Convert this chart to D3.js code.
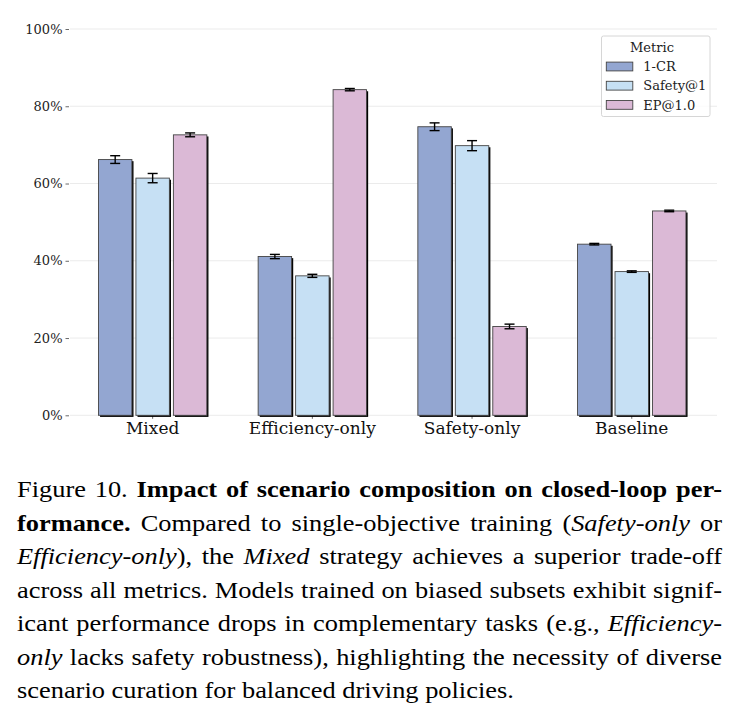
<!DOCTYPE html>
<html>
<head>
<meta charset="utf-8">
<script src="https://d3js.org/d3.v7.min.js"></script>
<style>
  body { margin: 0; background: #fff; }
  svg { display: block; }
  .serif { font-family: 'DejaVu Serif', serif; }
  .caption { font-family: 'Liberation Serif', 'Times New Roman', serif; }
</style>
</head>
<body>
<svg id="chart" width="740" height="719"></svg>
<script>
// data (percent)
var categories = ["Mixed", "Efficiency-only", "Safety-only", "Baseline"];
var metrics = ["1-CR", "Safety@1", "EP@1.0"];
var oneCR = [66.2, 41.1, 74.7, 44.3];
var safety1 = [61.4, 36.1, 69.8, 37.2];
var ep10 = [72.6, 84.3, 23.0, 52.9];
var oneCRErr = [1.0, 0.55, 1.0, 0.2];
var safety1Err = [1.2, 0.4, 1.3, 0.2];
var ep10Err = [0.5, 0.3, 0.6, 0.2];
var yTicks = [0, 20, 40, 60, 80, 100];
var colors = ["#93a6d1", "#c6e0f4", "#dbb9d6"];

// caption lines: [style, text] pieces; n = normal, b = bold, i = italic
var captionLines = [
  [["n", "Figure 10. "], ["b", "Impact of scenario composition on closed-loop per-"]],
  [["b", "formance."], ["n", " Compared to single-objective training ("], ["i", "Safety-only"], ["n", " or"]],
  [["i", "Efficiency-only"], ["n", "), the "], ["i", "Mixed"], ["n", " strategy achieves a superior trade-off"]],
  [["n", "across all metrics. Models trained on biased subsets exhibit signif-"]],
  [["n", "icant performance drops in complementary tasks (e.g., "], ["i", "Efficiency-"]],
  [["i", "only"], ["n", " lacks safety robustness), highlighting the necessity of diverse"]],
  [["n", "scenario curation for balanced driving policies."]]
];

var values = [oneCR, safety1, ep10];
var errs = [oneCRErr, safety1Err, ep10Err];

var svg = d3.select("#chart");

var x = d3.scaleBand().domain(categories).range([72.8, 711.6]);
var xSub = d3.scaleBand().domain(metrics).range([-54.2, 54.2]).paddingInner(0.107);
var y = d3.scaleLinear().domain([0, 100]).range([415.3, 29]);

// gridlines
svg.append("g").selectAll("line").data(yTicks).enter()
  .append("line")
  .attr("x1", 70).attr("x2", 717)
  .attr("y1", d => y(d)).attr("y2", d => y(d))
  .attr("stroke", "#ebebeb").attr("stroke-width", 1);

// y axis
var yAxis = svg.append("g")
  .attr("transform", "translate(69,0)")
  .call(d3.axisLeft(y).tickValues(yTicks).tickSize(3.5).tickPadding(3).tickFormat(d => d + "%"));
yAxis.attr("font-family", null).attr("font-size", null);
yAxis.select(".domain").remove();
yAxis.selectAll("line").attr("stroke", "#444").attr("stroke-width", 0.8);
yAxis.selectAll("text").attr("class", "serif").style("font-size", "13px").attr("fill", "#222");

// x axis
var xAxis = svg.append("g")
  .attr("transform", "translate(0," + y(0) + ")")
  .call(d3.axisBottom(x).tickSize(3.5).tickPadding(3));
xAxis.attr("font-family", null).attr("font-size", null);
xAxis.select(".domain").remove();
xAxis.selectAll("line").attr("stroke", "#444").attr("stroke-width", 0.8);
xAxis.selectAll("text").attr("class", "serif").style("font-size", "17px").attr("fill", "#111");

// bars
var rows = [];
metrics.forEach(function(m, j) {
  categories.forEach(function(c, i) {
    rows.push({cat: c, metric: m, j: j, v: values[j][i], e: errs[j][i]});
  });
});

var bars = svg.append("g");
// drop shadow
bars.selectAll("rect.shadow").data(rows).enter()
  .append("rect").attr("class", "shadow")
  .attr("x", d => x(d.cat) + x.bandwidth() / 2 + xSub(d.metric) + 1.6)
  .attr("y", d => y(d.v) + 1.6)
  .attr("width", xSub.bandwidth())
  .attr("height", d => y(0) - y(d.v))
  .attr("fill", "#000");
bars.selectAll("rect.bar").data(rows).enter()
  .append("rect").attr("class", "bar")
  .attr("x", d => x(d.cat) + x.bandwidth() / 2 + xSub(d.metric))
  .attr("y", d => y(d.v))
  .attr("width", xSub.bandwidth())
  .attr("height", d => y(0) - y(d.v))
  .attr("fill", d => colors[d.j])
  .attr("stroke", "#444").attr("stroke-width", 0.9);

// error bars
var eb = svg.append("g").attr("stroke", "#000").attr("stroke-width", 1.4);
var cx = d => x(d.cat) + x.bandwidth() / 2 + xSub(d.metric) + xSub.bandwidth() / 2;
eb.selectAll("line.v").data(rows).enter().append("line")
  .attr("x1", cx).attr("x2", cx)
  .attr("y1", d => y(d.v - d.e)).attr("y2", d => y(d.v + d.e));
eb.selectAll("line.t").data(rows).enter().append("line")
  .attr("x1", d => cx(d) - 5).attr("x2", d => cx(d) + 5)
  .attr("y1", d => y(d.v + d.e)).attr("y2", d => y(d.v + d.e));
eb.selectAll("line.b").data(rows).enter().append("line")
  .attr("x1", d => cx(d) - 5).attr("x2", d => cx(d) + 5)
  .attr("y1", d => y(d.v - d.e)).attr("y2", d => y(d.v - d.e));

// legend
var lg = svg.append("g").attr("transform", "translate(601.5,36)");
lg.append("rect").attr("width", 108.5).attr("height", 80.5).attr("rx", 2)
  .attr("fill", "#fff").attr("fill-opacity", 0.8).attr("stroke", "#d6d6d6");
lg.append("text").attr("class", "serif").attr("x", 50.5).attr("y", 15.5).attr("text-anchor", "middle")
  .style("font-size", "13px").attr("fill", "#222").text("Metric");
var items = lg.selectAll("g.item").data(metrics).enter().append("g")
  .attr("transform", (d, i) => "translate(0," + (30.5 + i * 19.2) + ")");
items.append("rect").attr("x", 4.8).attr("y", -4.4).attr("width", 26.5).attr("height", 8.8)
  .attr("fill", (d, i) => colors[i]).attr("stroke", "#444").attr("stroke-width", 0.9);
items.append("text").attr("class", "serif").attr("x", 41.8).attr("y", 4.6)
  .style("font-size", "13px").attr("fill", "#222").text(d => d);

// caption, justified line by line: spare width goes into the word gaps
// the printed Times is a bit wider than Liberation Serif, so stretch x by 1.1
var capLeft = 17, capRight = 722, capTop = 497, capStep = 33.5, capStretch = 1.1;
captionLines.forEach(function(line, k) {
  var t = svg.append("text").attr("class", "caption")
    .attr("transform", "translate(" + capLeft + "," + (capTop + k * capStep) + ") scale(" + capStretch + ",1)")
    .style("font-size", "24px").attr("fill", "#000")
    .style("white-space", "pre");
  line.forEach(function(p) {
    t.append("tspan")
      .style("font-weight", p[0] === "b" ? "bold" : "normal")
      .style("font-style", p[0] === "i" ? "italic" : "normal")
      .text(p[1]);
  });
  if (k < captionLines.length - 1) {
    var full = line.map(p => p[1]).join("");
    var spaces = (full.match(/ /g) || []).length;
    var w = t.node().getComputedTextLength();
    t.style("word-spacing", (((capRight - capLeft) / capStretch - w) / spaces) + "px");
  }
});
</script>
</body>
</html>
